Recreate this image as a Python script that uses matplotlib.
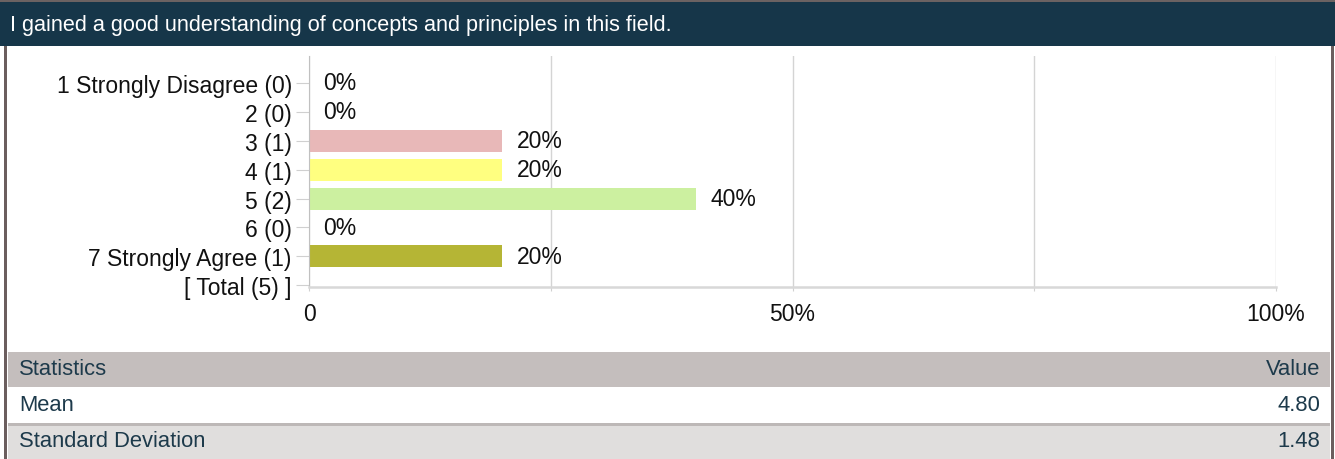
import matplotlib.pyplot as plt
from matplotlib.patches import Rectangle

plt.rcParams['font.family'] = ['Liberation Sans', 'DejaVu Sans']

# survey data
title = "I gained a good understanding of concepts and principles in this field."
categories = ['1 Strongly Disagree', '2', '3', '4', '5', '6', '7 Strongly Agree']
counts = [0, 0, 1, 1, 2, 0, 1]
bar_colors = ['#e8b8b8', '#e8b8b8', '#e8b8b8', '#ffff80', '#ccf0a0', '#ccf0a0', '#b5b535']
stat_names = ['Mean', 'Standard Deviation']
stat_values = ['4.80', '1.48']

total = sum(counts)
pcts = [c / total * 100 for c in counts]
labels = ['%s (%d)' % (c, n) for c, n in zip(categories, counts)] + ['[ Total (%d) ]' % total]

W, H = 1335, 460
fig = plt.figure(figsize=(W / 100, H / 100), dpi=100)

def px_rect(x0, y0, x1, y1, color, z=0):
    # rectangle in pixel coords measured from the top
    fig.patches.append(Rectangle((x0 / W, 1 - y1 / H), (x1 - x0) / W, (y1 - y0) / H,
                                 transform=fig.transFigure, facecolor=color,
                                 edgecolor='none', zorder=z))

# frame and header
px_rect(0, 0, W, 2.5, '#6b6262')
px_rect(0, 2.5, W, 47, '#163649')
px_rect(4, 47, 6.5, H, '#6b5e5e')
px_rect(1331, 47, 1334, H, '#6b5e5e')
fig.text(10 / W, 1 - 25 / H, title, color='white', fontsize=15.6, va='center', ha='left')

# statistics table
px_rect(8, 353, 1330, 388, '#c4bebd')
px_rect(8, 424, 1330, 426.5, '#bdb8b7')
px_rect(8, 426.5, 1330, H, '#e0dedd')
tc = '#1d3a4b'
fs_tab = 15.8
fig.text(19 / W, 1 - 370 / H, 'Statistics', color=tc, fontsize=fs_tab, va='center')
fig.text(1320 / W, 1 - 370 / H, 'Value', color=tc, fontsize=fs_tab, va='center', ha='right')
for i, (nm, v) in enumerate(zip(stat_names, stat_values)):
    yc = 406 + i * 36
    fig.text(19 / W, 1 - yc / H, nm, color=tc, fontsize=fs_tab, va='center')
    fig.text(1320 / W, 1 - yc / H, v, color=tc, fontsize=fs_tab, va='center', ha='right')

# bar chart
fs = 16.5
ax = fig.add_axes([309 / W, 1 - 288 / H, (1276 - 309) / W, (288 - 57) / H])
ypos = list(range(len(categories)))
ax.barh(ypos, pcts, height=0.76, color=bar_colors, zorder=2)
for y, p in zip(ypos, pcts):
    ax.text(p + 1.5, y, '%d%%' % p, va='center', ha='left', fontsize=fs, color='#111111')

ax.set_xlim(0, 100)
ax.set_ylim(7.06, -0.934)
ax.set_yticks(range(len(labels)))
ax.set_yticklabels(labels, fontsize=fs, color='#111111')
ax.set_xticks([0, 25, 50, 75, 100])
ax.set_xticklabels(['0', '', '50%', '', '100%'], fontsize=fs, color='#111111')
ax.tick_params(axis='y', length=9.4, color='#d0d0d0', pad=3)
ax.tick_params(axis='x', length=3, color='#d0d0d0', pad=8)
ax.grid(axis='x', color='#d4d4d4', linewidth=1, zorder=0)
for s in ['top', 'right']:
    ax.spines[s].set_visible(False)
ax.spines['left'].set_color('#c0c0c0')
ax.spines['bottom'].set_color('#d8d8d8')
ax.spines['bottom'].set_linewidth(1.8)

fig.savefig('out.png', dpi=100)
